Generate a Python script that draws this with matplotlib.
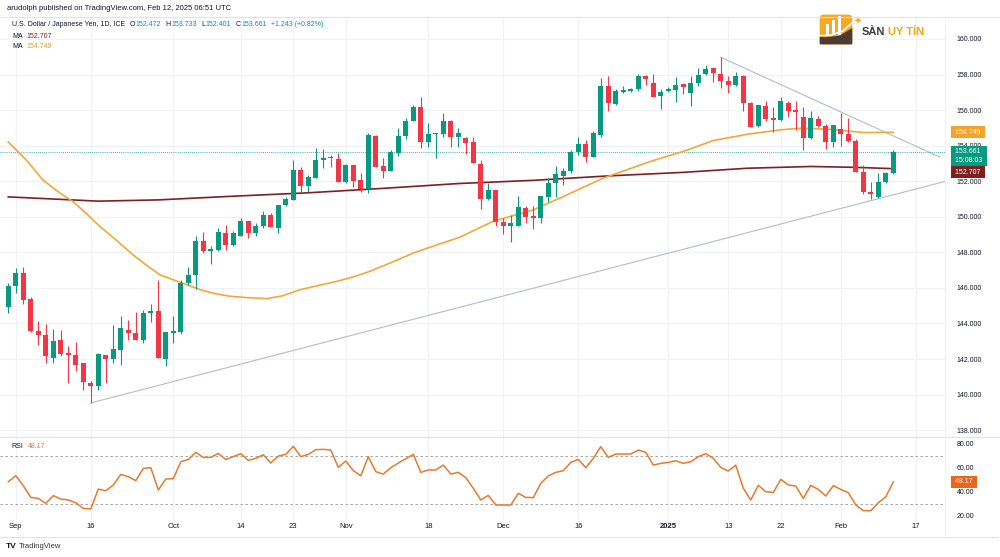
import numpy as np
import matplotlib.pyplot as plt
import matplotlib.transforms as mtransforms
from matplotlib.patches import FancyBboxPatch, Polygon, Rectangle

plt.rcParams['font.family'] = ['Liberation Sans', 'DejaVu Sans']

# USDJPY daily candles, Aug 30 2024 .. Feb 12 2025 (trading days only)
opens = [144.90, 146.09, 146.84, 145.38, 143.56, 143.33, 142.06, 143.05, 142.34, 142.20,
         141.78, 140.66, 140.51, 142.21, 142.01, 142.53, 143.65, 143.47, 143.05, 144.59,
         144.68, 142.00, 143.47, 143.50, 146.27, 146.74, 148.65, 148.09, 148.15, 149.08,
         148.43, 148.93, 149.74, 149.08, 149.50, 150.11, 149.36, 150.67, 150.96, 152.64,
         151.74, 152.17, 153.20, 153.33, 153.26, 151.98, 152.92, 152.08, 151.55, 154.55,
         152.87, 152.60, 153.61, 154.55, 155.41, 156.20, 154.23, 154.64, 154.64, 155.36,
         154.48, 154.42, 154.18, 152.98, 150.99, 151.48, 149.68, 149.50, 149.50, 150.49,
         150.05, 149.92, 151.14, 151.89, 152.32, 152.55, 153.67, 154.10, 153.39, 154.61,
         157.36, 156.33, 157.04, 157.08, 157.17, 157.92, 157.55, 156.80, 157.08, 157.13,
         157.47, 156.95, 157.51, 158.03, 158.35, 158.03, 157.66, 157.41, 157.92, 156.42,
         155.11, 156.23, 155.58, 155.45, 156.42, 156.01, 155.63, 154.42, 155.48, 155.11,
         154.23, 154.92, 154.66, 154.29, 152.54, 151.37, 151.10, 151.93, 152.472]
highs = [146.30, 147.12, 147.17, 145.49, 144.12, 143.99, 143.71, 143.62, 142.72, 142.94,
         141.78, 140.79, 142.34, 142.25, 143.90, 144.44, 144.21, 144.63, 144.78, 145.10,
         146.42, 143.50, 144.44, 146.42, 147.17, 148.93, 149.12, 148.34, 149.36, 149.55,
         149.18, 149.96, 149.74, 149.65, 150.30, 150.24, 150.67, 151.14, 153.20, 152.79,
         152.36, 153.86, 153.80, 153.48, 153.58, 152.98, 152.92, 152.45, 154.70, 154.61,
         153.30, 153.76, 154.98, 155.54, 156.29, 156.76, 155.30, 154.74, 155.82, 155.45,
         154.98, 154.51, 154.48, 153.20, 151.89, 151.48, 149.92, 150.11, 151.18, 150.58,
         150.58, 151.18, 152.17, 152.83, 152.74, 153.76, 154.48, 154.33, 154.80, 157.79,
         157.92, 157.17, 157.36, 157.23, 158.03, 157.98, 158.03, 157.17, 157.28, 157.85,
         157.51, 157.92, 158.35, 158.54, 158.44, 158.97, 157.92, 158.16, 157.98, 156.48,
         156.29, 156.54, 156.20, 156.72, 156.54, 156.54, 156.20, 155.97, 155.67, 155.22,
         155.17, 155.86, 155.54, 154.36, 152.92, 151.93, 152.49, 152.54, 153.733]
lows = [144.60, 145.71, 145.11, 143.50, 142.81, 141.78, 141.78, 142.15, 140.66, 141.31,
        140.28, 139.53, 140.28, 140.66, 141.78, 141.69, 143.09, 143.05, 142.90, 144.07,
        142.06, 141.59, 142.90, 143.43, 146.18, 145.94, 147.99, 147.36, 148.05, 148.15,
        148.37, 148.90, 148.80, 148.90, 149.36, 149.42, 149.08, 150.58, 150.96, 151.42,
        151.42, 152.17, 152.74, 152.79, 151.93, 151.89, 151.67, 151.37, 151.33, 152.79,
        152.17, 152.55, 153.43, 154.36, 155.36, 153.86, 153.95, 153.30, 154.51, 153.95,
        153.95, 153.54, 153.01, 150.43, 150.92, 149.46, 149.05, 148.61, 149.50, 149.64,
        149.30, 149.64, 150.86, 151.14, 151.80, 152.45, 153.48, 153.11, 153.35, 154.48,
        155.97, 156.29, 156.95, 157.04, 157.10, 157.42, 156.76, 156.05, 157.04, 156.48,
        156.90, 156.23, 157.36, 157.98, 157.56, 157.23, 156.95, 157.36, 155.97, 155.04,
        155.04, 155.41, 154.79, 155.41, 155.64, 154.89, 153.73, 154.36, 155.04, 153.80,
        153.95, 153.99, 154.23, 152.54, 151.29, 150.99, 151.05, 151.89, 152.401]
closes = [146.10, 146.84, 145.34, 143.56, 143.33, 142.15, 143.00, 142.31, 142.21, 141.69,
          140.69, 140.51, 142.31, 142.02, 142.57, 143.75, 143.47, 143.05, 144.59, 144.68,
          142.06, 143.50, 143.56, 146.27, 146.74, 148.65, 148.05, 148.20, 149.12, 148.43,
          149.08, 149.74, 149.08, 149.50, 150.11, 149.42, 150.64, 150.99, 152.64, 151.74,
          152.23, 153.20, 153.30, 153.28, 151.98, 152.92, 152.04, 151.55, 154.61, 152.79,
          152.55, 153.63, 154.55, 155.41, 156.20, 154.23, 154.64, 154.70, 155.36, 154.51,
          154.74, 154.14, 153.01, 150.99, 151.48, 149.68, 149.50, 149.64, 150.54, 149.98,
          149.92, 151.18, 151.89, 152.40, 152.55, 153.67, 154.10, 153.35, 154.74, 157.36,
          156.39, 157.10, 157.13, 157.17, 157.92, 157.77, 156.76, 157.04, 157.20, 157.42,
          157.28, 157.51, 157.98, 158.29, 158.11, 157.64, 157.41, 157.92, 156.42, 155.07,
          156.29, 155.48, 155.45, 156.53, 155.97, 155.90, 154.45, 155.54, 155.11, 154.23,
          155.17, 154.66, 154.27, 152.54, 151.37, 151.29, 151.93, 152.47, 153.661]

# moving averages (bar index, value)
ma_fast_bar = [0, 2.5, 4.6, 6.5, 8.6, 10.5, 12.2, 14.5, 16.6, 18.5, 20.2, 23.2, 25.6, 27.5,
               29.6, 32, 34.5, 36.5, 38.9, 41.5, 43.8, 46, 48.2, 51, 54, 57.2, 60.2, 64.6,
               70, 74, 79.3, 85.6, 90.3, 94, 98.5, 102.9, 105.6, 109.6, 114, 118]
ma_fast_val = [154.2, 153.15, 152.08, 151.45, 150.86, 150.15, 149.46, 148.65, 147.87, 147.25,
               146.74, 146.27, 145.9, 145.68, 145.53, 145.45, 145.4, 145.55, 145.9, 146.15,
               146.37, 146.62, 146.93, 147.42, 147.96, 148.43, 148.85, 149.74, 150.39, 151.14,
               152.17, 153.11, 153.72, 154.29, 154.64, 154.89, 154.98, 154.92, 154.74, 154.749]
ma_slow_bar = [0, 6, 12, 20, 29.6, 40, 50, 60, 70, 80, 90, 98.5, 107, 113, 118]
ma_slow_val = [151.12, 151.0, 150.88, 150.95, 151.15, 151.35, 151.6, 151.87, 152.05, 152.3,
               152.5, 152.73, 152.83, 152.78, 152.707]

rsi = [48.3, 53.3, 45.0, 35.3, 34.4, 30.3, 36.7, 33.9, 33.1, 30.8,
       26.1, 25.6, 42.2, 40.8, 45.6, 54.4, 52.5, 49.2, 59.4, 60.0,
       41.4, 50.6, 50.8, 65.0, 66.9, 72.8, 68.6, 68.6, 71.9, 66.9,
       69.2, 71.7, 66.1, 67.8, 70.8, 63.9, 69.7, 71.1, 77.8, 69.2,
       71.1, 75.0, 75.3, 74.7, 60.3, 65.6, 57.5, 53.3, 69.2, 56.7,
       54.7, 60.0, 63.9, 67.5, 71.1, 56.1, 58.1, 58.1, 62.2, 54.7,
       56.1, 51.7, 42.8, 33.1, 36.9, 28.9, 28.9, 28.9, 38.6, 35.3,
       35.0, 47.0, 53.1, 56.1, 57.5, 64.4, 66.9, 60.0, 67.8, 77.5,
       68.6, 71.4, 71.4, 71.4, 74.7, 72.8, 62.2, 63.6, 64.4, 65.8,
       63.6, 65.0, 69.2, 71.7, 67.8, 60.3, 57.2, 62.2, 42.8, 33.1,
       45.3, 40.0, 39.4, 50.3, 45.6, 44.7, 34.4, 45.3, 41.9, 36.4,
       45.0, 41.9, 39.2, 28.9, 24.2, 24.2, 30.8, 35.8, 48.17]

# trendlines (bar index, price)
upper_tl_bar = [95, 124.2]
upper_tl_val = [158.97, 153.36]
lower_tl_bar = [11, 124.9]
lower_tl_val = [139.53, 151.99]

date_ticks = [1, 11, 22, 31, 38, 45, 56, 66, 76, 88, 96, 103, 111, 121]
date_labels = ['Sep', '16', 'Oct', '14', '23', 'Nov', '18', 'Dec', '16', '2025', '13', '22', 'Feb', '17']
price_ticks = list(range(138, 161, 2))
rsi_ticks = [20, 40, 60, 80]

GREEN = '#089981'
RED = '#f23645'
ORANGE_MA = '#f2a83a'
DARK_MA = '#7f1f22'
RSI_COL = '#e87a2e'
GRID = '#f1f2f6'
TXT = '#131722'

W, H = 1000, 557
fig = plt.figure(figsize=(W / 100, H / 100), dpi=100)
ax = fig.add_axes([0, 1 - 437 / H, 945 / W, (437 - 18) / H])
rax = fig.add_axes([0, 1 - 520 / H, 945 / W, (520 - 437) / H], sharex=ax)

x = np.arange(len(opens))
o = np.array(opens)
c = np.array(closes)
cols = [GREEN if cc >= oo else RED for oo, cc in zip(o, c)]

for a in (ax, rax):
    for s in a.spines.values():
        s.set_visible(False)
    for t in date_ticks:
        a.axvline(t, color=GRID, lw=0.8, zorder=0)

for p in price_ticks:
    ax.axhline(p, color=GRID, lw=0.8, zorder=0)

# trendlines
ax.plot(upper_tl_bar, upper_tl_val, color='#b8bbc8', lw=0.8, zorder=1)
ax.plot(lower_tl_bar, lower_tl_val, color='#b8bbc8', lw=0.8, zorder=1)

# moving averages
ax.plot(ma_slow_bar, ma_slow_val, color=DARK_MA, lw=1.2, zorder=3)
ax.plot(ma_fast_bar, ma_fast_val, color=ORANGE_MA, lw=1.2, zorder=3)

# candles
ax.vlines(x, lows, highs, color=cols, lw=0.8, zorder=4)
ax.bar(x, np.maximum(np.abs(c - o), 0.06), bottom=np.minimum(o, c), width=0.68,
       color=cols, zorder=5)

ax.axhline(closes[-1], color=GREEN, lw=0.6, ls=(0, (1, 1.5)), zorder=2)

ax.set_xlim(-8.3 / 7.5, (945 - 8.3) / 7.5)
ax.set_ylim(160 - 398 / 17.78, 160 + 21 / 17.78)
ax.yaxis.tick_right()
ax.set_yticks(price_ticks)
ax.set_yticklabels([f'{p:.3f}' for p in price_ticks])
ax.tick_params(axis='y', length=0, pad=8.5, labelsize=5, labelcolor=TXT)
ax.tick_params(axis='x', length=0, labelbottom=False)

# RSI pane
rax.axhline(70, color='#9598a1', lw=0.6, ls=(0, (3, 3)))
rax.axhline(30, color='#9598a1', lw=0.6, ls=(0, (3, 3)))
rax.plot(x, rsi, color=RSI_COL, lw=1.1)
rax.set_ylim(80 - 76.3 / 1.2, 80 + 6.7 / 1.2)
rax.yaxis.tick_right()
rax.set_yticks(rsi_ticks)
rax.set_yticklabels([f'{v:.2f}' for v in rsi_ticks])
rax.tick_params(axis='y', length=0, pad=8.5, labelsize=5, labelcolor=TXT)
rax.set_xticks(date_ticks)
rax.set_xticklabels(date_labels)
rax.tick_params(axis='x', length=0, pad=2.5, labelsize=5.5, labelcolor=TXT)
for lab in rax.get_xticklabels():
    if lab.get_text() == '2025':
        lab.set_fontweight('bold')

# separators / frame
fig.add_artist(plt.Line2D([0, 1], [1 - 437 / H] * 2, color='#e0e3eb', lw=0.8))
fig.add_artist(plt.Line2D([0, 1], [1 - 17 / H] * 2, color='#e0e3eb', lw=0.8))
fig.add_artist(plt.Line2D([0, 0.998], [1 - 537 / H] * 2, color='#e0e3eb', lw=0.8))
fig.add_artist(plt.Line2D([945 / W] * 2, [1 - 537 / H, 1 - 17 / H], color='#f0f1f5', lw=0.6))

# price scale labels
def scale_label(axis, val, text, color, dy=0.0, va='center'):
    tr = mtransforms.blended_transform_factory(axis.transAxes, axis.transData)
    tr = mtransforms.offset_copy(tr, fig=fig, x=0, y=dy, units='dots')
    axis.text(1.0085, val, text, transform=tr, fontsize=5, color='white', va=va, ha='left',
              linespacing=1.35, clip_on=False,
              bbox=dict(boxstyle='square,pad=0.35', fc=color, ec='none'), zorder=10)

scale_label(ax, ma_fast_val[-1], f' {ma_fast_val[-1]:.3f} ', '#f0a52a')
scale_label(ax, closes[-1], f' {closes[-1]:.3f} \n 15:08:03 ', GREEN, dy=3.5, va='top')
scale_label(ax, ma_slow_val[-1], f' {ma_slow_val[-1]:.3f} ', DARK_MA, dy=-3.6)
scale_label(rax, rsi[-1], f' {rsi[-1]:.2f} ', '#e8671e')

# header texts
def ftext(px, py, s, **kw):
    return fig.text(px / W, 1 - py / H, s, va='center', ha='left', **kw)

ftext(7, 8, 'arudolph published on TradingView.com, Feb 12, 2025 06:51 UTC', fontsize=5.5, color=TXT)

renderer = fig.canvas.get_renderer()
xpos = 12
pieces = [('U.S. Dollar / Japanese Yen, 1D, ICE', TXT, 4),
          ('O', TXT, 1), (f'{opens[-1]:.3f}', GREEN, 4),
          ('H', TXT, 1), (f'{highs[-1]:.3f}', GREEN, 4),
          ('L', TXT, 1), (f'{lows[-1]:.3f}', GREEN, 4),
          ('C', TXT, 1), (f'{closes[-1]:.3f}', GREEN, 4),
          ('+1.243 (+0.82%)', GREEN, 0)]
for s, col, gap in pieces:
    t = ftext(xpos, 25, s, fontsize=5, color=col)
    xpos += t.get_window_extent(renderer).width + gap

t = ftext(12, 36, 'MA', fontsize=5, color=TXT)
ftext(12 + t.get_window_extent(renderer).width + 4, 36, f'{ma_slow_val[-1]:.3f}', fontsize=5, color=DARK_MA)
t = ftext(12, 47, 'MA', fontsize=5, color=TXT)
ftext(12 + t.get_window_extent(renderer).width + 4, 47, f'{ma_fast_val[-1]:.3f}', fontsize=5, color='#e89a20')

t = ftext(11, 447, 'RSI', fontsize=5, color=TXT)
ftext(11 + t.get_window_extent(renderer).width + 5, 447, f'{rsi[-1]:.2f}', fontsize=5, color=RSI_COL)

# logo (top right)
lax = fig.add_axes([819 / W, 1 - 45 / H, 34 / W, 31 / H])
lax.set_xlim(0, 1)
lax.set_ylim(0, 1)
lax.axis('off')
lax.add_patch(FancyBboxPatch((0.02, 0.02), 0.96, 0.96, boxstyle='round,pad=0,rounding_size=0.12',
                             fc='#f6a923', ec='none'))
lax.add_patch(Polygon([[0.02, 0.02], [0.98, 0.02], [0.98, 0.55], [0.6, 0.3], [0.2, 0.25], [0.02, 0.28]],
                      closed=True, fc='#4b3b36', ec='none'))
for bx, bh in zip([0.2, 0.38, 0.56], [0.35, 0.5, 0.62]):
    lax.add_patch(Rectangle((bx, 0.32), 0.1, bh, fc='white', ec='none'))
lax.plot([0.02, 0.35, 0.7, 0.98], [0.3, 0.32, 0.45, 0.72], color='white', lw=1.2)
fig.text(858 / W, 1 - 22 / H, '✦', fontsize=7, color='#f6a923', ha='center', va='center',
         family=['DejaVu Sans'])
t = ftext(862, 32, 'SÀN', fontsize=8, color='#3b3b3b', fontweight='bold')
ftext(862 + t.get_window_extent(renderer).width + 3, 32, 'UY TÍN', fontsize=8,
      color='#f5a800', fontweight='bold')

# TradingView footer
ftext(6, 546, 'TV', fontsize=6, color=TXT, fontweight='bold')
ftext(19, 546, 'TradingView', fontsize=5.5, color='#333333')

fig.savefig('out.png', dpi=100, facecolor='white')
